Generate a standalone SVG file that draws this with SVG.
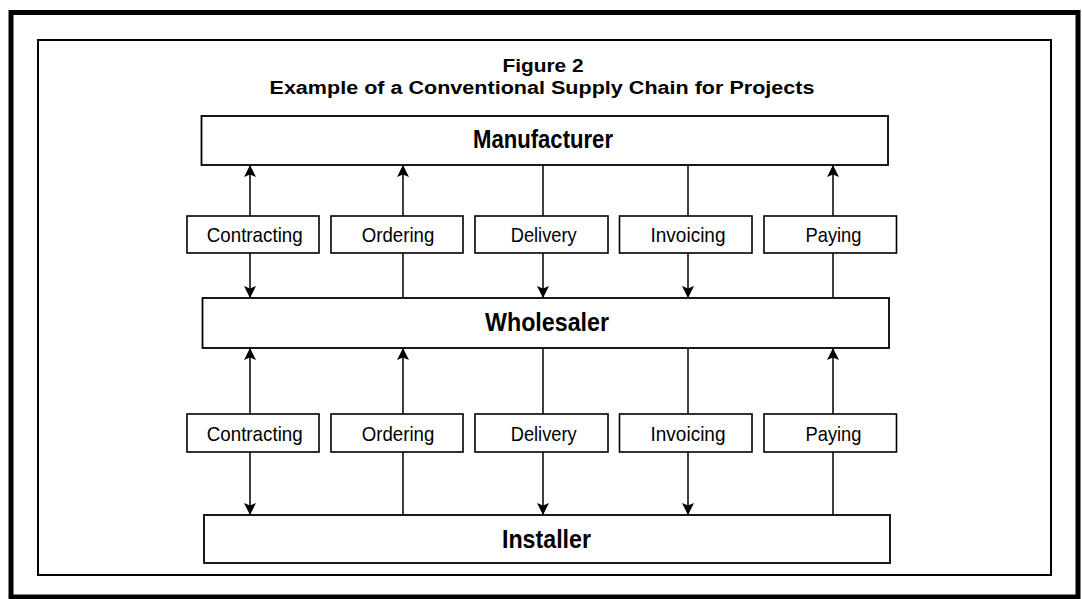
<svg xmlns="http://www.w3.org/2000/svg" width="1082" height="599" viewBox="0 0 1082 599">
<style>
.frame{fill:none;stroke:#000}
.node{fill:#fff;stroke:#000;stroke-width:1.8}
.step{fill:#fff;stroke:#000;stroke-width:1.6}
.title{font-family:"Liberation Sans",Arial,sans-serif;font-weight:bold;font-size:18px;text-anchor:middle;fill:#000}
.big{font-family:"Liberation Sans Narrow","Liberation Sans",Arial,sans-serif;font-weight:bold;font-size:25px;text-anchor:middle;fill:#000}
.small{font-family:"Liberation Sans Narrow","Liberation Sans",Arial,sans-serif;font-size:21px;text-anchor:middle;fill:#000}
.conn line{stroke:#000;stroke-width:1.5}
.a{marker-end:url(#arr)}
</style>
<defs>
<marker id="arr" viewBox="0 0 12 12" refX="12" refY="6" markerWidth="12" markerHeight="12" markerUnits="userSpaceOnUse" orient="auto">
<path d="M0,0 L12,6 L0,12 L2.5,6 z" fill="#000"/>
</marker>
</defs>
<rect width="1082" height="599" fill="#fff"/>
<rect class="frame" x="11" y="12.5" width="1067" height="584.5" stroke-width="5"/>
<rect class="frame" x="38" y="40" width="1013" height="535" stroke-width="2"/>
<g id="title">
<text class="title" x="543" y="71.5" textLength="81" lengthAdjust="spacingAndGlyphs">Figure 2</text>
<text class="title" x="542" y="94" textLength="545" lengthAdjust="spacingAndGlyphs">Example of a Conventional Supply Chain for Projects</text>
</g>
<g id="connectors" class="conn">
<line class="a" x1="250" y1="216" x2="250" y2="165"/>
<line class="a" x1="250" y1="253" x2="250" y2="298"/>
<line class="a" x1="403" y1="216" x2="403" y2="165"/>
<line x1="403" y1="253" x2="403" y2="298"/>
<line x1="543" y1="165" x2="543" y2="216"/>
<line class="a" x1="543" y1="253" x2="543" y2="298"/>
<line x1="688" y1="165" x2="688" y2="216"/>
<line class="a" x1="688" y1="253" x2="688" y2="298"/>
<line class="a" x1="833" y1="216" x2="833" y2="165"/>
<line x1="833" y1="253" x2="833" y2="298"/>
<line class="a" x1="250" y1="414" x2="250" y2="348"/>
<line class="a" x1="250" y1="452" x2="250" y2="515"/>
<line class="a" x1="403" y1="414" x2="403" y2="348"/>
<line x1="403" y1="452" x2="403" y2="515"/>
<line x1="543" y1="348" x2="543" y2="414"/>
<line class="a" x1="543" y1="452" x2="543" y2="515"/>
<line x1="688" y1="348" x2="688" y2="414"/>
<line class="a" x1="688" y1="452" x2="688" y2="515"/>
<line class="a" x1="833" y1="414" x2="833" y2="348"/>
<line x1="833" y1="452" x2="833" y2="515"/>
</g>
<g id="manufacturer">
<rect class="node" x="201.5" y="116" width="686.5" height="49"/>
<text class="big" x="543" y="148" textLength="140" lengthAdjust="spacingAndGlyphs">Manufacturer</text>
</g>
<g id="wholesaler">
<rect class="node" x="202.5" y="298" width="686.5" height="50"/>
<text class="big" x="547" y="331" textLength="124" lengthAdjust="spacingAndGlyphs">Wholesaler</text>
</g>
<g id="installer">
<rect class="node" x="204" y="515" width="686" height="48"/>
<text class="big" x="546.5" y="548" textLength="89" lengthAdjust="spacingAndGlyphs">Installer</text>
</g>
<g id="contracting1">
<rect class="step" x="187" y="216" width="132" height="37"/>
<text class="small" x="254.7" y="242" textLength="96" lengthAdjust="spacingAndGlyphs">Contracting</text>
</g>
<g id="ordering1">
<rect class="step" x="331" y="216" width="132" height="37"/>
<text class="small" x="398" y="242" textLength="72.5" lengthAdjust="spacingAndGlyphs">Ordering</text>
</g>
<g id="delivery1">
<rect class="step" x="475" y="216" width="133" height="37"/>
<text class="small" x="543.7" y="242" textLength="66" lengthAdjust="spacingAndGlyphs">Delivery</text>
</g>
<g id="invoicing1">
<rect class="step" x="619.5" y="216" width="132.5" height="37"/>
<text class="small" x="688" y="242" textLength="75" lengthAdjust="spacingAndGlyphs">Invoicing</text>
</g>
<g id="paying1">
<rect class="step" x="764" y="216" width="132.5" height="37"/>
<text class="small" x="833.5" y="242" textLength="56" lengthAdjust="spacingAndGlyphs">Paying</text>
</g>
<g id="contracting2">
<rect class="step" x="187" y="414" width="132" height="38"/>
<text class="small" x="254.7" y="441" textLength="96" lengthAdjust="spacingAndGlyphs">Contracting</text>
</g>
<g id="ordering2">
<rect class="step" x="331" y="414" width="132" height="38"/>
<text class="small" x="398" y="441" textLength="72.5" lengthAdjust="spacingAndGlyphs">Ordering</text>
</g>
<g id="delivery2">
<rect class="step" x="475" y="414" width="133" height="38"/>
<text class="small" x="543.7" y="441" textLength="66" lengthAdjust="spacingAndGlyphs">Delivery</text>
</g>
<g id="invoicing2">
<rect class="step" x="619.5" y="414" width="132.5" height="38"/>
<text class="small" x="688" y="441" textLength="75" lengthAdjust="spacingAndGlyphs">Invoicing</text>
</g>
<g id="paying2">
<rect class="step" x="764" y="414" width="132.5" height="38"/>
<text class="small" x="833.5" y="441" textLength="56" lengthAdjust="spacingAndGlyphs">Paying</text>
</g>
</svg>
